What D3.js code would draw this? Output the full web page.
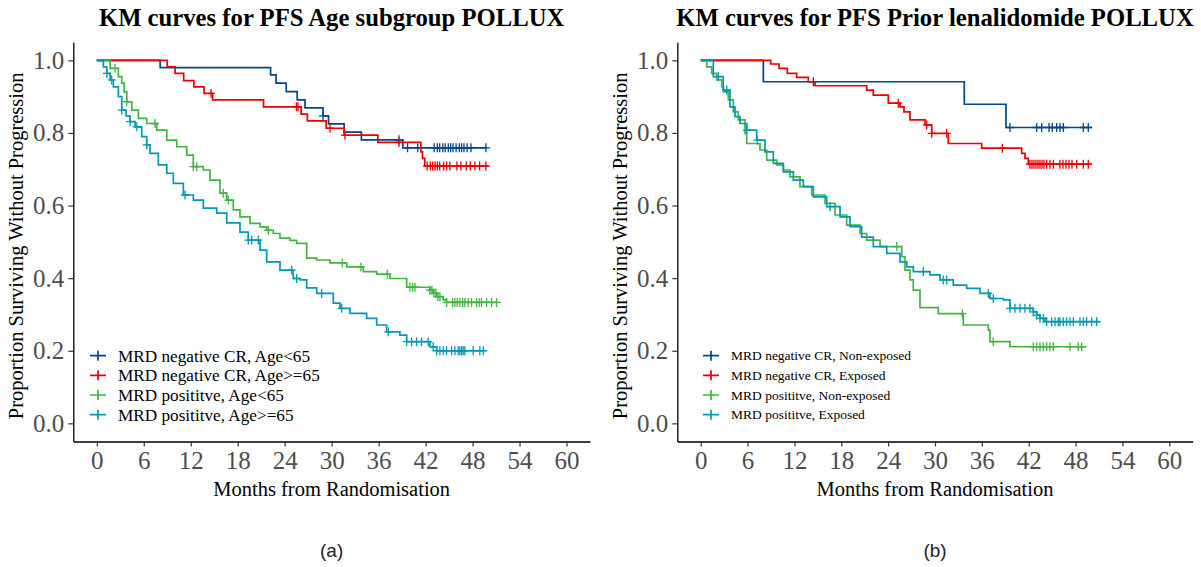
<!DOCTYPE html>
<html>
<head>
<meta charset="utf-8">
<script src="https://cdn.jsdelivr.net/npm/d3@7.9.0/dist/d3.min.js"></script>
<style>
  body { margin: 0; background: #fff; }
  svg { display: block; }
</style>
</head>
<body>
<svg id="chart" width="1201" height="567"></svg>
<script>
// ---- data: step points (months, survival) + censor times ----
const monthTicks = [0, 6, 12, 18, 24, 30, 36, 42, 48, 54, 60];
const survTicks = [0, 0.2, 0.4, 0.6, 0.8, 1.0];
const colors = ['#00468B', '#ED0000', '#42B540', '#0099B4'];

// (a) Age subgroup
const ageLabels = ['MRD negative CR, Age<65', 'MRD negative CR, Age>=65', 'MRD posititve, Age<65', 'MRD posititve, Age>=65'];

const negYoungT = [0, 8.1, 22.2, 22.9, 24.2, 25.6, 26.6, 28.9, 29.6, 31.6, 33.8, 39.1, 49.8];
const negYoungS = [1, .980, .960, .937, .914, .891, .869, .847, .825, .802, .781, .759, .759];
const negYoungC = [28.9, 38.6, 39.7, 41.0, 43.1, 43.5, 43.8, 44.2, 44.5, 44.9, 45.2, 45.5, 45.9, 46.3, 46.6, 46.9, 47.3, 47.8, 49.7];

const negOldT = [0, 9.0, 10.0, 11.1, 12.4, 13.7, 14.8, 21.3, 26.1, 26.9, 29.3, 31.6, 35.9, 41.4, 41.6, 41.9, 50.0];
const negOldS = [1, .982, .964, .944, .927, .909, .891, .872, .852, .833, .813, .794, .774, .748, .730, .709, .709];
const negOldC = [14.6, 25.5, 25.7, 29.8, 31.7, 38.6, 42.2, 42.6, 42.9, 43.2, 43.5, 43.8, 44.3, 44.7, 45.1, 46.0, 46.5, 47.2, 47.7, 48.3, 48.9, 49.7];

const posYoungT = [0, 1.70, 2.76, 3.19, 3.49, 3.83, 4.47, 5.31, 6.38, 7.66, 8.94, 10.21, 11.49, 12.33, 13.61, 14.46, 15.74, 16.60, 17.44, 18.29, 19.57, 20.85, 21.70, 22.55, 23.40, 24.68, 25.53, 26.81, 28.09, 29.79, 31.92, 34.04, 35.75, 37.45, 39.58, 42.55, 42.93, 43.41, 44.25, 44.68, 51.1];
const posYoungS = [1, .978, .955, .937, .913, .886, .863, .840, .826, .808, .780, .762, .739, .707, .698, .670, .634, .615, .588, .569, .551, .541, .532, .523, .510, .504, .496, .455, .450, .442, .431, .418, .411, .399, .375, .367, .359, .349, .340, .333, .333];
const posYoungC = [2.34, 3.83, 7.44, 12.33, 12.77, 16.16, 16.80, 21.91, 31.35, 33.74, 37.10, 40.0, 40.34, 40.64, 42.55, 42.81, 43.06, 43.32, 43.57, 43.83, 44.68, 45.45, 45.74, 46.04, 46.38, 46.73, 47.02, 47.44, 47.87, 48.51, 48.85, 49.15, 49.79, 50.43, 51.07];

const posOldT = [0, 0.84, 1.28, 1.70, 2.12, 2.76, 3.19, 3.74, 4.25, 4.89, 5.74, 6.38, 6.80, 7.86, 8.94, 9.78, 11.06, 12.33, 13.61, 15.32, 16.60, 18.29, 19.35, 20.85, 21.70, 23.40, 25.10, 25.95, 26.81, 28.09, 30.21, 31.06, 32.34, 34.47, 35.75, 37.02, 38.72, 39.58, 42.55, 43.41, 49.66];
const posOldS = [1, .982, .964, .946, .927, .900, .863, .847, .831, .817, .790, .767, .744, .712, .689, .661, .629, .615, .593, .579, .552, .527, .505, .477, .445, .422, .399, .395, .373, .358, .331, .317, .303, .289, .271, .252, .243, .225, .211, .200, .200];
const posOldC = [1.28, 1.91, 3.19, 4.25, 5.11, 6.38, 11.27, 19.35, 19.79, 20.63, 24.89, 25.53, 28.72, 31.28, 37.23, 39.58, 40.21, 40.85, 41.49, 42.33, 42.97, 43.41, 43.83, 44.25, 44.68, 45.32, 45.74, 46.16, 46.38, 46.60, 46.80, 47.02, 48.08, 48.93, 49.36];

// (b) Prior lenalidomide
const lenLabels = ['MRD negative CR, Non-exposed', 'MRD negative CR, Exposed', 'MRD posititve, Non-exposed', 'MRD posititve, Exposed'];

const negNonT = [0, 8.02, 33.75, 39.09, 50.06];
const negNonS = [1, .941, .879, .815, .815];
const negNonC = [14.42, 39.60, 43.02, 43.66, 44.60, 45.02, 45.58, 46.00, 46.43, 48.99, 49.63];

const negExpT = [0, 8.96, 10.03, 11.09, 12.29, 13.78, 14.64, 21.25, 22.10, 24.02, 25.52, 26.03, 26.80, 28.72, 29.58, 31.70, 35.98, 41.10, 41.52, 41.95, 50.06];
const negExpS = [1, .990, .978, .964, .953, .941, .930, .918, .904, .882, .872, .858, .836, .822, .799, .771, .758, .744, .730, .714, .714];
const negExpC = [25.30, 28.94, 29.58, 31.50, 38.62, 42.16, 42.42, 42.67, 42.93, 43.19, 43.44, 43.70, 43.96, 44.30, 44.72, 45.15, 46.00, 46.39, 46.77, 47.16, 47.54, 48.14, 48.99, 49.63];

const posNonT = [0, 0.77, 1.41, 2.05, 2.69, 2.89, 3.53, 4.17, 4.81, 5.67, 5.89, 7.59, 8.45, 9.73, 10.58, 11.43, 12.71, 14.21, 15.92, 17.20, 18.69, 20.40, 21.25, 22.96, 25.74, 26.16, 26.80, 27.22, 28.08, 30.42, 33.62, 36.82, 37.04, 39.60, 49.42];
const posNonS = [1, .982, .964, .946, .927, .913, .891, .858, .836, .799, .771, .753, .725, .712, .698, .679, .652, .629, .606, .574, .546, .523, .505, .487, .459, .422, .395, .367, .319, .302, .271, .257, .225, .211, .211];
const posNonC = [25.1, 33.5, 37.46, 42.59, 43.02, 43.44, 43.87, 44.30, 44.72, 45.15, 47.29, 48.35, 48.78];

const posExpT = [0, 1.61, 2.89, 3.75, 4.39, 5.03, 5.89, 7.17, 8.23, 9.30, 10.58, 11.86, 13.14, 14.42, 16.13, 17.84, 19.12, 20.61, 22.10, 23.82, 25.52, 26.38, 27.22, 29.36, 30.64, 32.34, 34.06, 35.76, 37.04, 38.75, 39.60, 42.59, 43.02, 43.44, 44.08, 51.13];
const posExpS = [1, .955, .918, .872, .845, .826, .808, .780, .748, .716, .693, .670, .652, .624, .597, .569, .542, .513, .487, .468, .445, .431, .418, .409, .395, .381, .372, .358, .344, .340, .317, .307, .298, .289, .280, .280];
const posExpC = [2.25, 3.33, 5.89, 7.25, 16.56, 28.50, 31.06, 31.50, 36.82, 37.46, 39.60, 40.24, 40.88, 41.52, 42.16, 42.59, 43.02, 43.44, 43.87, 44.30, 44.94, 45.37, 45.79, 46.00, 46.43, 46.86, 47.29, 47.71, 48.57, 48.99, 49.42, 50.06, 50.70];

const panels = [
  {
    title: 'KM curves for PFS Age subgroup POLLUX', caption: '(a)',
    left: 73.3, right: 590, labels: ageLabels, legendFont: 17.2, legendX: 98, legendTextX: 118,
    series: [[negYoungT, negYoungS, negYoungC], [negOldT, negOldS, negOldC], [posYoungT, posYoungS, posYoungC], [posOldT, posOldS, posOldC]]
  },
  {
    title: 'KM curves for PFS Prior lenalidomide POLLUX', caption: '(b)',
    left: 677.3, right: 1192.7, labels: lenLabels, legendFont: 13.5, legendX: 711, legendTextX: 731,
    series: [[negNonT, negNonS, negNonC], [negExpT, negExpS, negExpC], [posNonT, posNonS, posNonC], [posExpT, posExpS, posExpC]]
  }
];

const svg = d3.select('#chart');
const panelTop = 42.2, panelBottom = 441.5;
const serif = '"Liberation Serif", "Times New Roman", serif';

panels.forEach((p) => drawPanel(p));

function drawPanel(p) {
  const x = d3.scaleLinear().domain([-3, 63]).range([p.left, p.right]);
  const y = d3.scaleLinear().domain([-0.05, 1.05]).range([panelBottom, panelTop]);
  const g = svg.append('g');
  const mid = (p.left + p.right) / 2;

  // axes
  const xAxis = g.append('g').attr('transform', `translate(0,${panelBottom})`)
    .call(d3.axisBottom(x).tickValues(monthTicks).tickSize(5).tickPadding(4).tickSizeOuter(0));
  const yAxis = g.append('g').attr('transform', `translate(${p.left},0)`)
    .call(d3.axisLeft(y).tickValues(survTicks).tickFormat(d3.format('.1f')).tickSize(5).tickPadding(4).tickSizeOuter(0));
  [xAxis, yAxis].forEach((a) => {
    a.select('.domain').attr('stroke', '#000').attr('stroke-width', 1.3);
    a.selectAll('.tick line').attr('stroke', '#333').attr('stroke-width', 1.2);
    a.selectAll('.tick text').attr('fill', '#4d4d4d').style('font-family', serif).style('font-size', '25px');
  });
  xAxis.selectAll('.tick text').attr('dy', '0.72em');

  // titles
  g.append('text').attr('x', mid).attr('y', 26).attr('text-anchor', 'middle')
    .style('font-family', serif).style('font-weight', 'bold').style('font-size', '24.7px').text(p.title);
  g.append('text').attr('x', mid).attr('y', 496).attr('text-anchor', 'middle')
    .style('font-family', serif).style('font-size', '20.5px').text('Months from Randomisation');
  g.append('text').attr('transform', `translate(${p.left - 50},${(panelTop + panelBottom) / 2 + 4}) rotate(-90)`)
    .attr('text-anchor', 'middle').style('font-family', serif).style('font-size', '20.5px')
    .text('Proportion Surviving Without Progression');
  g.append('text').attr('x', mid).attr('y', 557).attr('text-anchor', 'middle')
    .style('font-family', '"Liberation Sans", Arial, sans-serif').style('font-size', '19px').attr('fill', '#222')
    .text(p.caption);

  const line = d3.line().x((d) => x(d[0])).y((d) => y(d[1])).curve(d3.curveStepAfter);

  p.series.forEach(([T, S, C], i) => {
    const pts = T.map((t, k) => [t, S[k]]);
    g.append('path').datum(pts).attr('d', line)
      .attr('fill', 'none').attr('stroke', colors[i]).attr('stroke-width', 1.7);
    g.selectAll(null).data(C).enter().append('path')
      .attr('transform', (c) => `translate(${x(c)},${y(S[Math.max(0, d3.bisectRight(T, c) - 1)])})`)
      .attr('d', 'M-4,0H4M0,-4.5V4.5')
      .attr('stroke', colors[i]).attr('stroke-width', 1.3).attr('fill', 'none');
  });

  // legend
  const rowY = [355.7, 375.3, 395, 414.7];
  p.labels.forEach((lab, i) => {
    const lg = g.append('g').attr('transform', `translate(0,${rowY[i]})`);
    lg.append('path').attr('d', `M${p.legendX - 8},0H${p.legendX + 8}M${p.legendX},-5V5`)
      .attr('stroke', colors[i]).attr('stroke-width', 1.7);
    lg.append('text').attr('x', p.legendTextX).attr('dy', '0.35em')
      .style('font-family', serif).style('font-size', p.legendFont + 'px').text(lab);
  });
}
</script>
</body>
</html>
